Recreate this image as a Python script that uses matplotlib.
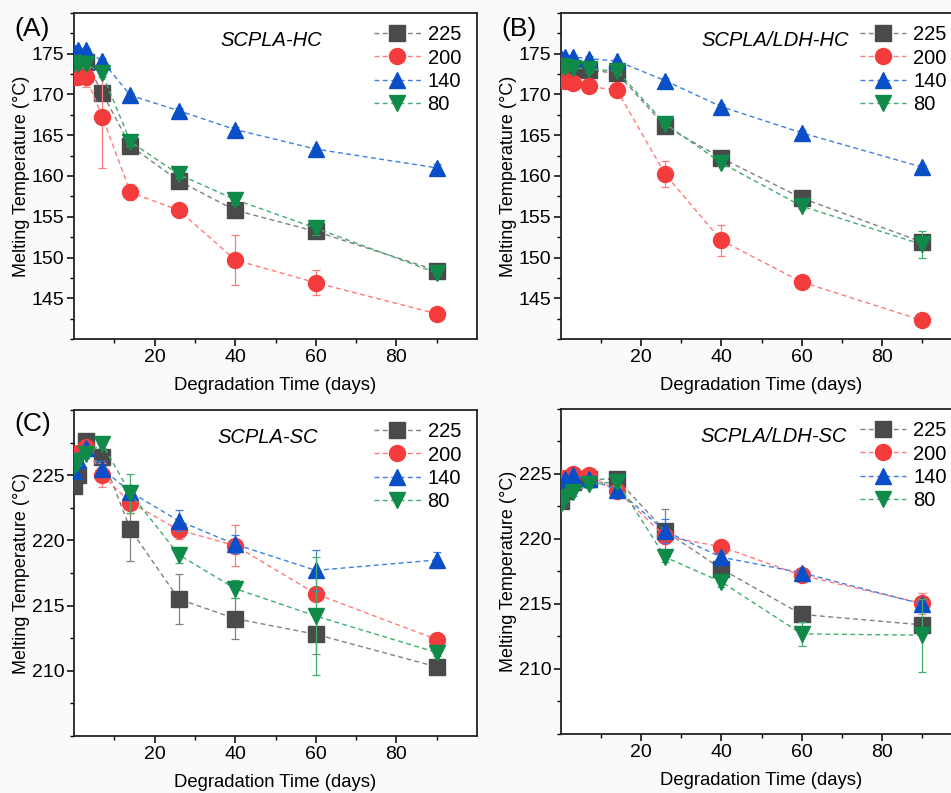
import matplotlib
matplotlib.use("Agg")
import matplotlib.pyplot as plt
from matplotlib.ticker import MultipleLocator, FixedLocator

plt.rcParams['font.family'] = ['Liberation Sans', 'DejaVu Sans']

days = [0, 1, 3, 7, 14, 26, 40, 60, 90]
labels = ['225', '200', '140', '80']

# panel A : SCPLA-HC
a225 = [173.5, 173.8, 174.0, 170.2, 163.7, 159.4, 155.8, 153.2, 148.4]
a200 = [172.2, 172.1, 172.1, 167.3, 158.0, 155.8, 149.7, 146.9, 143.1]
a140 = [175.2, 175.4, 175.4, 174.1, 169.9, 168.0, 165.7, 163.3, 161.0]
a80 = [173.9, 173.7, 173.7, 172.6, 164.2, 160.2, 157.1, 153.6, 148.1]
a225_err = [0.4, 0.4, 0.4, 0.6, 0.8, 0.4, 1.0, 0.5, 0.3]
a200_err = [0.8, 0.6, 1.2, 6.3, 1.0, 0.3, 3.05, 1.55, 0.3]
a140_err = [0.3, 0.3, 0.3, 0.4, 0.3, 0.3, 0.3, 0.3, 0.5]
a80_err = [0.3, 0.3, 0.3, 0.4, 0.5, 0.4, 0.5, 0.8, 0.3]

# panel B : SCPLA/LDH-HC
b225 = [173.1, 173.2, 173.1, 173.0, 172.6, 166.1, 162.2, 157.3, 151.9]
b200 = [172.2, 171.6, 171.4, 171.0, 170.5, 160.2, 152.1, 147.0, 142.3]
b140 = [174.5, 174.6, 174.6, 174.4, 174.1, 171.7, 168.5, 165.3, 161.1]
b80 = [173.5, 173.4, 173.3, 173.1, 172.9, 166.4, 161.6, 156.3, 151.6]
b225_err = [0.3, 0.3, 0.3, 0.3, 0.3, 0.4, 0.4, 0.3, 0.5]
b200_err = [0.5, 0.5, 0.5, 0.3, 0.3, 1.6, 1.9, 0.3, 0.3]
b140_err = [0.3, 0.3, 0.3, 0.3, 0.3, 0.3, 0.3, 0.3, 0.3]
b80_err = [0.3, 0.3, 0.3, 0.3, 0.3, 0.4, 0.4, 0.4, 1.6]

# panel C : SCPLA-SC
c225 = [224.2, 225.0, 227.6, 226.4, 220.85, 215.5, 214.0, 212.8, 210.3]
c200 = [226.2, 226.7, 227.2, 225.0, 222.9, 220.8, 219.6, 215.9, 212.4]
c140 = [225.3, 226.2, 227.1, 225.5, 223.7, 221.5, 219.7, 217.7, 218.5]
c80 = [225.7, 226.1, 226.6, 227.4, 223.6, 218.9, 216.3, 214.2, 211.4]
c225_err = [0.3, 0.3, 0.3, 0.5, 2.4, 1.9, 1.55, 1.5, 0.4]
c200_err = [0.3, 0.3, 0.3, 0.9, 0.8, 0.7, 1.6, 0.3, 0.3]
c140_err = [0.3, 0.3, 0.3, 0.6, 0.4, 0.8, 0.7, 1.55, 0.6]
c80_err = [0.3, 0.3, 0.3, 0.3, 1.5, 0.6, 0.7, 4.5, 0.3]

# panel D : SCPLA/LDH-SC
d225 = [222.9, 223.7, 224.4, 224.6, 224.6, 220.6, 217.7, 214.2, 213.4]
d200 = [224.4, 224.7, 225.0, 224.9, 223.7, 220.2, 219.4, 217.2, 215.05]
d140 = [223.7, 224.6, 224.9, 224.6, 223.8, 220.6, 218.6, 217.4, 215.0]
d80 = [222.7, 223.2, 223.6, 224.2, 224.4, 218.6, 216.7, 212.7, 212.6]
d225_err = [0.3, 0.3, 0.3, 0.3, 0.3, 1.7, 0.4, 0.4, 0.3]
d200_err = [0.3, 0.3, 0.3, 0.3, 0.3, 0.4, 0.3, 0.3, 0.8]
d140_err = [0.3, 0.3, 0.3, 0.3, 0.3, 0.9, 0.4, 0.3, 0.3]
d80_err = [0.3, 0.3, 0.3, 0.3, 0.3, 0.4, 0.4, 0.9, 2.8]

markers = ['s', 'o', '^', 'v']
mcolors = ['#4a4a4a', '#f53c3c', '#0a4fc8', '#108a48']
lcolors = ['#808080', '#ff7a7a', '#3d7fe0', '#3fae6e']

W, H = 951, 793
fig = plt.figure(figsize=(W / 100, H / 100), dpi=100, facecolor='#fafafa')


def make_panel(rect, series, errs, ylim, yticks, title, title_x, tag, tag_xy):
    l, t, r, b = rect
    ax = fig.add_axes([l / W, 1 - b / H, (r - l) / W, (b - t) / H])
    ax.set_facecolor('white')
    for i in range(4):
        ax.errorbar(days, series[i], yerr=errs[i], fmt='none', ecolor=lcolors[i],
                    elinewidth=0.9, capsize=3, capthick=0.9, zorder=2 + i)
        ax.plot(days, series[i], ls=(0, (3.5, 2.5)), lw=1.0, color=lcolors[i],
                marker=markers[i], ms=11.5, mfc=mcolors[i], mec=mcolors[i],
                label=labels[i], zorder=3 + i)
    ax.set_xlim(0, 100)
    ax.set_ylim(*ylim)
    ax.xaxis.set_major_locator(FixedLocator([20, 40, 60, 80]))
    ax.xaxis.set_minor_locator(FixedLocator([10, 30, 50, 70, 90]))
    ax.yaxis.set_major_locator(FixedLocator(yticks))
    ax.yaxis.set_minor_locator(MultipleLocator(2.5))
    ax.tick_params(which='major', direction='out', length=5, width=1.1, labelsize=14, pad=2)
    ax.tick_params(which='minor', direction='out', length=3, width=1.0)
    for s in ax.spines.values():
        s.set_linewidth(1.3)
        s.set_color('#222222')
    ax.set_xlabel('Degradation Time (days)', fontsize=13.3, labelpad=8)
    ax.set_ylabel('Melting Temperature (°C)', fontsize=13, labelpad=1)
    ax.text(title_x, 0.915, title, transform=ax.transAxes, ha='center', va='center',
            fontsize=14.5, style='italic')
    ax.legend(loc='upper left', bbox_to_anchor=(0.715, 1.0), frameon=False,
              fontsize=14.5, handlelength=2.3, handletextpad=0.35, labelspacing=0.22,
              borderaxespad=0.2)
    if tag:
        fig.text(tag_xy[0] / W, 1 - tag_xy[1] / H, tag, fontsize=19, ha='left', va='center')
    return ax


make_panel((74, 13, 477, 339), [a225, a200, a140, a80],
           [a225_err, a200_err, a140_err, a80_err], (140, 180),
           [145, 150, 155, 160, 165, 170, 175], 'SCPLA-HC', 0.49, '(A)', (14, 29))
make_panel((561, 13, 962, 339), [b225, b200, b140, b80],
           [b225_err, b200_err, b140_err, b80_err], (140, 180),
           [145, 150, 155, 160, 165, 170, 175], 'SCPLA/LDH-HC', 0.534, '(B)', (501, 29))
make_panel((74, 410, 477, 736), [c225, c200, c140, c80],
           [c225_err, c200_err, c140_err, c80_err], (205, 230),
           [210, 215, 220, 225], 'SCPLA-SC', 0.48, '(C)', (14, 424))
make_panel((561, 409, 962, 734), [d225, d200, d140, d80],
           [d225_err, d200_err, d140_err, d80_err], (205, 230),
           [210, 215, 220, 225], 'SCPLA/LDH-SC', 0.53, None, None)

fig.savefig('out.png', dpi=100, facecolor=fig.get_facecolor())
